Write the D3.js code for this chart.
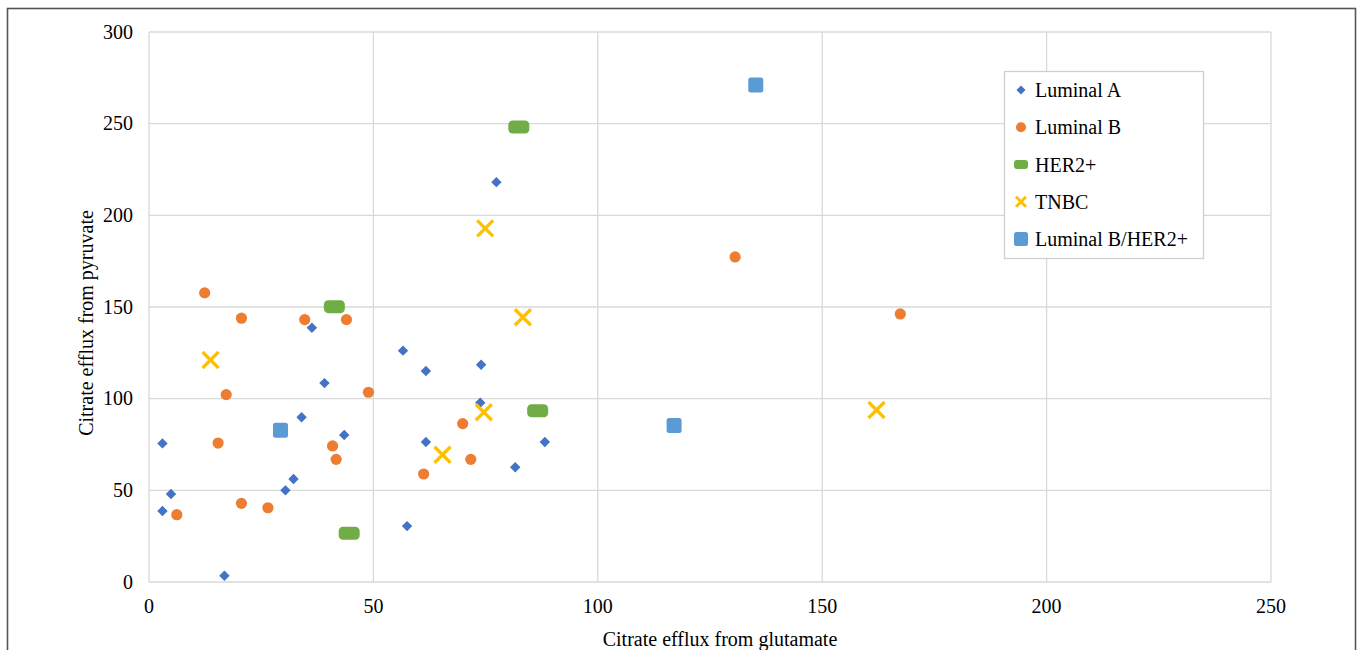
<!DOCTYPE html>
<html>
<head>
<meta charset="utf-8">
<script src="https://cdn.jsdelivr.net/npm/d3@7"></script>
<style>
  body { margin: 0; background: #fff; }
  text { font-family: "Liberation Serif", "Times New Roman", serif; fill: #000; }
</style>
</head>
<body>
<div id="chart"></div>
<script>
// data: [glutamate, pyruvate]
const luminalA = [[3.0, 75.6], [3.0, 38.7], [4.9, 48.0], [16.8, 3.4], [30.4, 50.0], [32.2, 56.2],
    [34.0, 89.9], [36.3, 138.7], [39.1, 108.5], [43.5, 80.2], [56.6, 126.2], [57.5, 30.5],
    [61.7, 115.1], [61.7, 76.4], [74.0, 118.5], [73.8, 97.8], [77.4, 218.1], [81.6, 62.6], [88.2, 76.4]];
const luminalB = [[12.4, 157.7], [20.6, 143.9], [34.7, 143.1], [44.0, 143.1], [48.9, 103.5], [17.2, 102.2],
    [15.4, 75.8], [40.9, 74.2], [41.7, 66.9], [20.6, 42.9], [26.5, 40.5], [6.2, 36.7],
    [69.9, 86.4], [71.7, 66.9], [61.2, 58.9], [130.6, 177.3], [167.4, 146.2]];
const her2 = [[41.3, 150.2], [44.6, 26.6], [86.6, 93.4], [82.4, 248.2]];
const tnbc = [[13.7, 121.1], [74.9, 192.9], [83.3, 144.4], [74.6, 92.6], [65.4, 69.4], [162.1, 93.8]];
const lumBHer2 = [[29.3, 82.8], [135.2, 271.1], [117.0, 85.3]];

const seriesNames = ["Luminal A", "Luminal B", "HER2+", "TNBC", "Luminal B/HER2+"];
const xTicks = [0, 50, 100, 150, 200, 250];
const yTicks = [0, 50, 100, 150, 200, 250, 300];

const colors = {
    "Luminal A": "#4472C4",
    "Luminal B": "#ED7D31",
    "HER2+": "#70AD47",
    "TNBC": "#FFC000",
    "Luminal B/HER2+": "#5B9BD5"
};

const width = 1360, height = 650;
const plot = {left: 149, right: 1271, top: 32, bottom: 582};

const svg = d3.select("#chart").append("svg")
    .attr("width", width)
    .attr("height", height);

// outer frame of the figure
svg.append("rect")
    .attr("x", 7.5).attr("y", 8.5)
    .attr("width", 1348).attr("height", 660)
    .attr("fill", "none")
    .attr("stroke", "#555")
    .attr("stroke-width", 1.6);

const x = d3.scaleLinear().domain([0, 250]).range([plot.left, plot.right]);
const y = d3.scaleLinear().domain([0, 300]).range([plot.bottom, plot.top]);

// gridlines
svg.append("g").selectAll("line.v")
    .data(xTicks)
    .enter().append("line")
    .attr("x1", d => x(d)).attr("x2", d => x(d))
    .attr("y1", plot.top).attr("y2", plot.bottom)
    .attr("stroke", "#d9d9d9").attr("stroke-width", 1.3);

svg.append("g").selectAll("line.h")
    .data(yTicks)
    .enter().append("line")
    .attr("x1", plot.left).attr("x2", plot.right)
    .attr("y1", d => y(d)).attr("y2", d => y(d))
    .attr("stroke", "#d9d9d9").attr("stroke-width", 1.3);

// tick labels
svg.append("g").selectAll("text")
    .data(xTicks)
    .enter().append("text")
    .attr("x", d => x(d))
    .attr("y", 613)
    .attr("text-anchor", "middle")
    .attr("font-size", 20)
    .text(d => d);

svg.append("g").selectAll("text")
    .data(yTicks)
    .enter().append("text")
    .attr("x", 133)
    .attr("y", d => y(d))
    .attr("dy", "0.33em")
    .attr("text-anchor", "end")
    .attr("font-size", 20)
    .text(d => d);

// axis titles
svg.append("text")
    .attr("x", 720).attr("y", 646)
    .attr("text-anchor", "middle")
    .attr("font-size", 20)
    .text("Citrate efflux from glutamate");

svg.append("text")
    .attr("transform", "translate(93, 323) rotate(-90)")
    .attr("text-anchor", "middle")
    .attr("font-size", 20)
    .text("Citrate efflux from pyruvate");

// marker drawers
function diamond(g, cx, cy, s, c) {
    g.append("path")
        .attr("d", `M${cx},${cy - s}L${cx + s},${cy}L${cx},${cy + s}L${cx - s},${cy}Z`)
        .attr("fill", c);
}
function circle(g, cx, cy, r, c) {
    g.append("circle").attr("cx", cx).attr("cy", cy).attr("r", r).attr("fill", c);
}
function pill(g, cx, cy, w, h, c) {
    g.append("rect").attr("x", cx - w / 2).attr("y", cy - h / 2)
        .attr("width", w).attr("height", h).attr("rx", h / 3)
        .attr("fill", c);
}
function cross(g, cx, cy, s, c, sw) {
    g.append("path")
        .attr("d", `M${cx - s},${cy - s}L${cx + s},${cy + s}M${cx - s},${cy + s}L${cx + s},${cy - s}`)
        .attr("stroke", c).attr("stroke-width", sw).attr("fill", "none");
}
function square(g, cx, cy, s, c) {
    g.append("rect").attr("x", cx - s / 2).attr("y", cy - s / 2)
        .attr("width", s).attr("height", s).attr("rx", 2.5)
        .attr("fill", c);
}

const marks = svg.append("g");
luminalA.forEach(d => diamond(marks, x(d[0]), y(d[1]), 5.2, colors["Luminal A"]));
luminalB.forEach(d => circle(marks, x(d[0]), y(d[1]), 5.6, colors["Luminal B"]));
her2.forEach(d => pill(marks, x(d[0]), y(d[1]), 21, 13, colors["HER2+"]));
tnbc.forEach(d => cross(marks, x(d[0]), y(d[1]), 8, colors["TNBC"], 3.3));
lumBHer2.forEach(d => square(marks, x(d[0]), y(d[1]), 15, colors["Luminal B/HER2+"]));

// legend
const legend = svg.append("g").attr("class", "legend");
legend.append("rect")
    .attr("x", 1004.5).attr("y", 71.5)
    .attr("width", 199).attr("height", 187)
    .attr("fill", "#fff")
    .attr("stroke", "#cfcfcf")
    .attr("stroke-width", 1.3);

const rowY = d3.scalePoint().domain(seriesNames).range([90, 239]);
seriesNames.forEach(name => {
    const cy = rowY(name), cx = 1021, c = colors[name];
    if (name === "Luminal A") diamond(legend, cx, cy, 4.5, c);
    else if (name === "Luminal B") circle(legend, cx, cy, 5, c);
    else if (name === "HER2+") pill(legend, cx, cy, 14, 9, c);
    else if (name === "TNBC") cross(legend, cx, cy, 5, c, 3);
    else square(legend, cx, cy, 14, c);
    legend.append("text")
        .attr("x", 1035).attr("y", cy)
        .attr("dy", "0.35em")
        .attr("font-size", 20)
        .text(name);
});
</script>
</body>
</html>
